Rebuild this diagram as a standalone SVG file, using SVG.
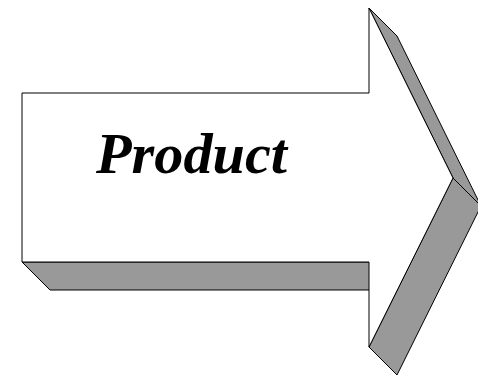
<svg xmlns="http://www.w3.org/2000/svg" width="478" height="376" viewBox="0 0 478 376">
<style>
.side{fill:#999999;stroke:#000;stroke-width:1;stroke-linejoin:miter}
.front{fill:#fff;stroke:#000;stroke-width:1}
.lbl{font-family:"Liberation Serif",serif;font-weight:bold;font-style:italic;font-size:57px;fill:#000}
</style>
<rect width="478" height="376" fill="#fff"/>
<g id="arrow">
<polygon class="side" points="22,262 369,262 397,290 50,290"/>
<polygon class="side" points="369,8 397,36 481,206 453,178"/>
<polygon class="side" points="453,178 481,206 397,375 369,347"/>
<polygon class="front" points="22,93 369,93 369,8 453,178 369,347 369,262 22,262"/>
<text class="lbl" x="96" y="173" textLength="191" lengthAdjust="spacingAndGlyphs">Product</text>
</g>
</svg>
